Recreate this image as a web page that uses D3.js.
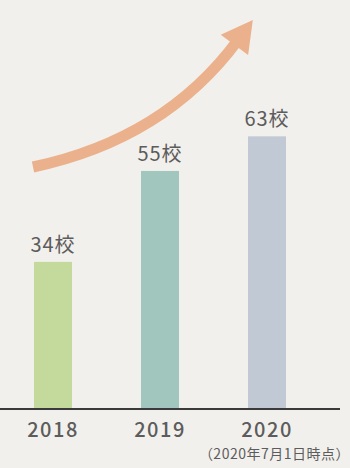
<!DOCTYPE html>
<html>
<head>
<meta charset="utf-8">
<script src="https://cdn.jsdelivr.net/npm/d3@7"></script>
<style>
  html, body { margin: 0; padding: 0; background: #f2f0ec; }
  svg { display: block; }
  text { font-family: "Noto Sans CJK JP", "Noto Sans", sans-serif; fill: #5c5c5c; }
</style>
</head>
<body>
<div id="chart"></div>
<script>
var years = ["2018", "2019", "2020"];
var schools = [34, 55, 63];
var valueLabels = ["34校", "55校", "63校"];
var barColors = ["#c4da9c", "#a0c6be", "#c0c9d4"];
var note = "（2020年7月1日時点）";

var width = 350, height = 468,
    baseline = 409;

var svg = d3.select("#chart").append("svg")
    .attr("width", width)
    .attr("height", height);

var x = d3.scaleBand()
    .domain(years)
    .range([34, 286])
    .paddingInner(0.645)
    .paddingOuter(0);

var y = d3.scaleLinear()
    .domain([0, 94.5])
    .range([baseline, 0]);

// growth arrow behind everything
var p0 = [33, 167], c = [165, 139], p2 = [238, 40];
var shaft = d3.path();
shaft.moveTo(p0[0], p0[1]);
shaft.quadraticCurveTo(c[0], c[1], p2[0], p2[1]);
svg.append("path")
    .attr("d", shaft.toString())
    .attr("fill", "none")
    .attr("stroke", "#ebb18c")
    .attr("stroke-width", 11);

// arrow head, pointing along the end tangent
var dx = p2[0] - c[0], dy = p2[1] - c[1],
    len = Math.sqrt(dx * dx + dy * dy),
    ux = dx / len, uy = dy / len;
var tip = [p2[0] + ux * 25, p2[1] + uy * 25],
    back = [p2[0] - ux * 6, p2[1] - uy * 6];
svg.append("path")
    .attr("d", "M" + tip + "L" + [back[0] - uy * 17, back[1] + ux * 17] +
               "L" + [back[0] + uy * 17, back[1] - ux * 17] + "Z")
    .attr("fill", "#ebb18c");

svg.selectAll(".bar")
    .data(schools)
  .enter().append("rect")
    .attr("class", "bar")
    .attr("x", function(d, i) { return x(years[i]); })
    .attr("y", function(d) { return y(d); })
    .attr("width", x.bandwidth())
    .attr("height", function(d) { return baseline - y(d); })
    .attr("fill", function(d, i) { return barColors[i]; });

svg.selectAll(".val")
    .data(schools)
  .enter().append("text")
    .attr("class", "val")
    .attr("x", function(d, i) { return x(years[i]) + x.bandwidth() / 2; })
    .attr("y", function(d) { return y(d) - 10; })
    .attr("text-anchor", "middle")
    .style("font-size", "20px")
    .style("letter-spacing", "1px")
    .text(function(d, i) { return valueLabels[i]; });

// baseline
svg.append("line")
    .attr("x1", 0).attr("x2", 340)
    .attr("y1", baseline).attr("y2", baseline)
    .attr("stroke", "#3a3a3a")
    .attr("stroke-width", 2);

svg.selectAll(".year")
    .data(years)
  .enter().append("text")
    .attr("class", "year")
    .attr("x", function(d) { return x(d) + x.bandwidth() / 2; })
    .attr("y", 437)
    .attr("text-anchor", "middle")
    .style("font-size", "20px")
    .style("font-weight", 500)
    .style("letter-spacing", "1.5px")
    .text(function(d) { return d; });

svg.append("text")
    .attr("x", 350)
    .attr("y", 459)
    .attr("text-anchor", "end")
    .style("font-size", "14px")
    .style("letter-spacing", "0.5px")
    .text(note);
</script>
</body>
</html>
